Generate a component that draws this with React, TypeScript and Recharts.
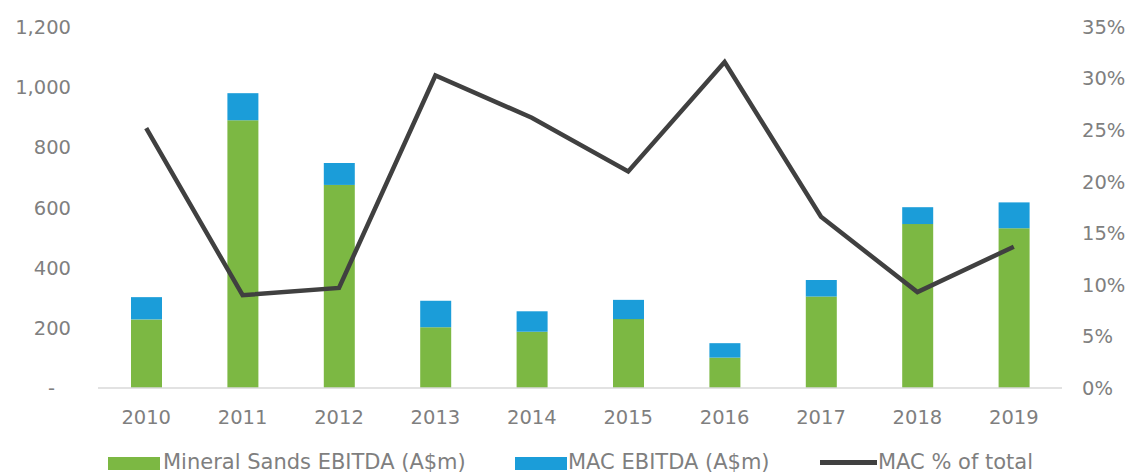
import React from 'react';
import { ComposedChart, Bar, Line, XAxis, YAxis, Legend } from 'recharts';

const years = ['2010', '2011', '2012', '2013', '2014', '2015', '2016', '2017', '2018', '2019'];
const mineralSands = [228, 890, 675, 202, 187, 229, 101, 304, 545, 531];
const macEbitda = [74, 90, 73, 88, 68, 64, 48, 55, 56, 86];
const macPct = [25.2, 9.0, 9.7, 30.3, 26.2, 21.0, 31.6, 16.6, 9.3, 13.7];

const leftTicks = [0, 200, 400, 600, 800, 1000, 1200];
const rightTicks = [0, 5, 10, 15, 20, 25, 30, 35];

const seriesNames = ['Mineral Sands EBITDA (A$m)', 'MAC EBITDA (A$m)', 'MAC % of total'];

const GREEN = '#7cb843';
const BLUE = '#1b9dd9';
const LINE = '#404040';
const TEXT = '#7f7f7f';
const FONT = 'DejaVu Sans, Verdana, sans-serif';

const data = years.map((y, i) => ({
  year: y,
  mineral: mineralSands[i],
  mac: macEbitda[i],
  pct: macPct[i],
}));

const LeftTick = (props: any) => {
  const { x, y, payload } = props;
  const v = payload.value;
  const label = v === 0 ? '-' : Number(v).toLocaleString('en-US');
  return (
    <text x={v === 0 ? x - 16 : x} y={y} dy="0.36em" textAnchor="end" fill={TEXT} fontSize={19.5} fontFamily={FONT}>
      {label}
    </text>
  );
};

const LegendContent = () => (
  <svg width={1131} height={33} style={{ display: 'block', overflow: 'visible' }}>
    <rect x={108} y={17} width={52} height={13} fill={GREEN} />
    <text x={163} y={29} fill={TEXT} fontSize={21} fontFamily={FONT}>{seriesNames[0]}</text>
    <rect x={515} y={17} width={52} height={13} fill={BLUE} />
    <text x={568} y={29} fill={TEXT} fontSize={21} fontFamily={FONT}>{seriesNames[1]}</text>
    <rect x={820} y={20} width={57} height={5} fill={LINE} />
    <text x={878} y={29} fill={TEXT} fontSize={21} fontFamily={FONT}>{seriesNames[2]}</text>
  </svg>
);

export default function App() {
  return (
    <div style={{ position: 'absolute', left: 0, top: 0, width: 1131, height: 473, background: '#fff' }}>
      <ComposedChart
        width={1131}
        height={473}
        data={data}
        margin={{ top: 27, right: 0, left: 0, bottom: 45 }}
        barCategoryGap={0}
      >
        <XAxis
          dataKey="year"
          axisLine={{ stroke: '#d9d9d9', strokeWidth: 1.5 }}
          tickLine={false}
          tickSize={0}
          tickMargin={22}
          height={40}
          tick={{ fill: TEXT, fontSize: 19.5, fontFamily: FONT }}
        />
        <YAxis
          yAxisId="left"
          domain={[0, 1200]}
          ticks={leftTicks}
          width={98}
          axisLine={false}
          tickLine={false}
          tickSize={0}
          tickMargin={27}
          tick={<LeftTick />}
          interval={0}
        />
        <YAxis
          yAxisId="right"
          orientation="right"
          domain={[0, 35]}
          ticks={rightTicks}
          width={69}
          axisLine={false}
          tickLine={false}
          tickSize={0}
          tickMargin={20}
          interval={0}
          tickFormatter={(v: number) => `${v}%`}
          tick={{ fill: TEXT, fontSize: 19.5, fontFamily: FONT, textAnchor: 'start' }}
        />
        <Legend
          layout="horizontal"
          verticalAlign="middle"
          align="center"
          width={1131}
          height={33}
          wrapperStyle={{ left: 0, top: 440, width: 1131, height: 33 }}
          content={<LegendContent />}
        />
        <Bar yAxisId="left" dataKey="mineral" stackId="a" fill={GREEN} barSize={31} isAnimationActive={false} name={seriesNames[0]} />
        <Bar yAxisId="left" dataKey="mac" stackId="a" fill={BLUE} barSize={31} isAnimationActive={false} name={seriesNames[1]} />
        <Line
          yAxisId="right"
          dataKey="pct"
          type="linear"
          stroke={LINE}
          strokeWidth={4.5}
          dot={false}
          activeDot={false}
          isAnimationActive={false}
          name={seriesNames[2]}
        />
      </ComposedChart>
    </div>
  );
}
